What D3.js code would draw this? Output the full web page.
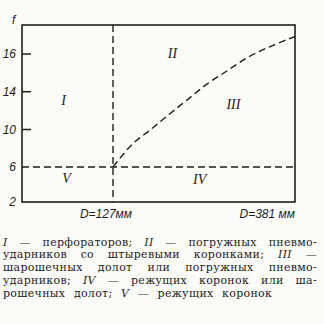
<!DOCTYPE html>
<html>
<head>
<meta charset="utf-8">
<script src="https://cdn.jsdelivr.net/npm/d3@7"></script>
<style>
  html, body { margin: 0; padding: 0; background: #fbfbf8; }
  svg { display: block; }
</style>
</head>
<body>
<div id="chart"></div>
<script>
// chart values
const yTicks = [2, 6, 10, 14, 16];
const yTickMarks = [10, 14, 16];
const boundaryD = [127, 381];
const boundaryF = 6;
const curveD = [127, 155, 179, 202, 230, 258, 286, 314, 341, 381];
const curveF = [6, 8.5, 9.95, 11.4, 13.1, 14.4, 15.1, 15.8, 16.3, 16.9];
const zoneNames = ["I", "II", "III", "IV", "V"];
const zoneD = [58, 210, 295, 248, 62];
const zoneF = [12.6, 15.8, 12.2, 4.1, 4.2];
const xLabels = ["D=127мм", "D=381 мм"];
const captionLines = [
  "I — перфораторов;   II — погружных   пневмо-",
  "ударников со штыревыми коронками; III —",
  "шарошечных долот или погружных пневмо-",
  "ударников; IV — режущих коронок или ша-",
  "рошечных долот; V — режущих коронок"
];

const ink = "#1e1e1e";
const width = 324, height = 324;

const svg = d3.select("#chart").append("svg")
    .attr("width", width)
    .attr("height", height);

// the printed scale is not even, so it is piecewise linear
const x = d3.scaleLinear().domain([0, 381]).range([22, 295]);
const y = d3.scaleLinear()
    .domain([2, 6, 10, 14, 16, 17.5])
    .range([202, 167, 129.5, 91.7, 54, 25]);

// frame
svg.append("rect")
    .attr("x", x(0))
    .attr("y", y(17.5))
    .attr("width", x(381) - x(0))
    .attr("height", y(2) - y(17.5))
    .attr("fill", "none")
    .attr("stroke", ink)
    .attr("stroke-width", 1.6);

// y axis labels and inner ticks
const yAxis = svg.append("g")
    .attr("transform", `translate(${x(0)},0)`)
    .call(d3.axisLeft(y).tickValues(yTicks).tickSize(0).tickPadding(6));
yAxis.select(".domain").remove();
yAxis.selectAll("text")
    .attr("font-family", "Liberation Sans, sans-serif")
    .attr("font-style", "italic")
    .attr("font-size", 12)
    .attr("fill", ink);

svg.append("g").selectAll("line")
    .data(yTickMarks)
    .join("line")
    .attr("x1", x(0))
    .attr("x2", x(0) + 9)
    .attr("y1", d => y(d))
    .attr("y2", d => y(d))
    .attr("stroke", ink)
    .attr("stroke-width", 1.5);

svg.append("text")
    .attr("x", x(0) - 10)
    .attr("y", y(17.5) - 1)
    .attr("font-family", "Liberation Sans, sans-serif")
    .attr("font-style", "italic")
    .attr("font-size", 12)
    .attr("fill", ink)
    .text("f");

// dashed boundaries
const dash = "7,4";
svg.append("line")
    .attr("x1", x(boundaryD[0]))
    .attr("x2", x(boundaryD[0]))
    .attr("y1", y(17.5))
    .attr("y2", y(2))
    .attr("stroke", ink)
    .attr("stroke-width", 1.4)
    .attr("stroke-dasharray", dash);

svg.append("line")
    .attr("x1", x(0))
    .attr("x2", x(boundaryD[1]))
    .attr("y1", y(boundaryF))
    .attr("y2", y(boundaryF))
    .attr("stroke", ink)
    .attr("stroke-width", 1.4)
    .attr("stroke-dasharray", dash);

const curve = d3.line()
    .x((d, i) => x(d))
    .y((d, i) => y(curveF[i]))
    .curve(d3.curveMonotoneX);

svg.append("path")
    .attr("d", curve(curveD))
    .attr("fill", "none")
    .attr("stroke", ink)
    .attr("stroke-width", 1.4)
    .attr("stroke-dasharray", dash);

// zone numerals
svg.append("g").selectAll("text")
    .data(zoneNames)
    .join("text")
    .attr("x", (d, i) => x(zoneD[i]))
    .attr("y", (d, i) => y(zoneF[i]))
    .attr("text-anchor", "middle")
    .attr("font-family", "Liberation Serif, serif")
    .attr("font-style", "italic")
    .attr("font-size", 14)
    .attr("fill", ink)
    .text(d => d);

// bottom labels
svg.append("text")
    .attr("x", x(boundaryD[0]) - 7)
    .attr("y", 218)
    .attr("text-anchor", "middle")
    .attr("font-family", "Liberation Sans, sans-serif")
    .attr("font-style", "italic")
    .attr("font-size", 12)
    .attr("fill", ink)
    .text(xLabels[0]);

svg.append("text")
    .attr("x", x(boundaryD[1]))
    .attr("y", 218)
    .attr("text-anchor", "end")
    .attr("font-family", "Liberation Sans, sans-serif")
    .attr("font-style", "italic")
    .attr("font-size", 12)
    .attr("fill", ink)
    .text(xLabels[1]);

// caption, one text per line, justified word by word
const left = 3, right = 317;
const roman = /^(I|II|III|IV|V)$/;
captionLines.forEach((line, li) => {
  const words = line.split(/\s+/);
  const t = svg.append("text")
      .attr("y", 245.5 + li * 12.8)
      .attr("font-family", "DejaVu Serif, serif")
      .attr("font-size", 11)
      .attr("letter-spacing", 0.3)
      .attr("fill", ink);
  const spans = words.map(w => t.append("tspan")
      .attr("font-style", roman.test(w) ? "italic" : "normal")
      .text(w));
  const widths = spans.map(s => s.node().getComputedTextLength());
  const total = d3.sum(widths);
  const last = li === captionLines.length - 1;
  const gap = last ? 8.5 : (right - left - total) / (words.length - 1);
  let cx = left;
  spans.forEach((s, i) => {
    s.attr("x", cx);
    cx += widths[i] + gap;
  });
});
</script>
</body>
</html>
